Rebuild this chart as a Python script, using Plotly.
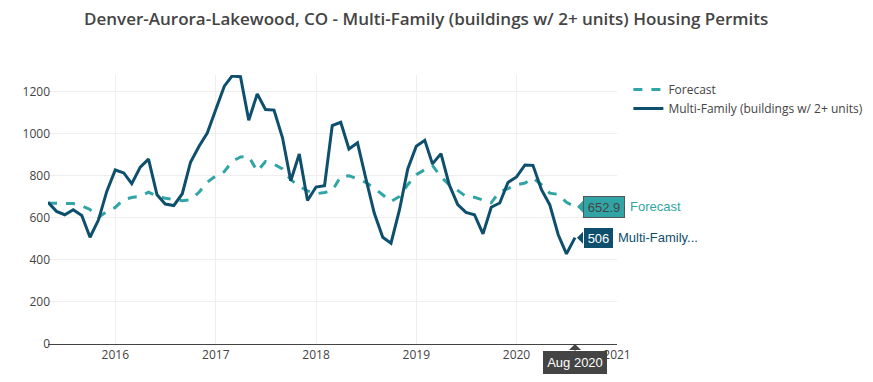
import pandas as pd
import plotly.graph_objects as go

# ---- data ----
start_month = "2015-05-01"
n_months = 64
dates = pd.date_range(start_month, periods=n_months, freq="MS")

multi_family = [
    674, 631, 615, 639, 612, 508, 591, 726,                      # 2015 May-Dec
    828, 814, 763, 842, 880, 710, 666, 659, 715, 865, 941, 1004,  # 2016
    1116, 1227, 1275, 1272, 1065, 1190, 1116, 1113, 981, 777, 904, 683,  # 2017
    747, 753, 1039, 1055, 928, 957, 790, 623, 508, 480, 639, 833,  # 2018
    941, 969, 857, 906, 758, 663, 626, 615, 524, 651, 671, 769,    # 2019
    795, 852, 850, 734, 663, 520, 429, 506,                        # 2020 Jan-Aug
]
forecast = [
    670, 670, 670, 668, 658, 640, 603, 630,
    650, 688, 697, 703, 722, 705, 693, 686, 682, 686, 722, 770,
    800, 820, 868, 890, 893, 822, 868, 855, 833, 782, 750, 729,
    715, 721, 729, 797, 801, 785, 769, 742, 710, 678, 702, 758,
    806, 830, 850, 795, 758, 731, 702, 698, 684, 672, 726, 739,
    758, 766, 790, 758, 718, 712, 674, 652.9,
]
series_names = ["Forecast", "Multi-Family (buildings w/ 2+ units)"]
hover_names = ["Forecast", "Multi-Family..."]
hover_month_label = "Aug 2020"
y_ticks = [0, 200, 400, 600, 800, 1000, 1200]
x_range = ["2015-05-01", "2021-01-01"]
y_range = [0, 1280]
title_text = "Denver-Aurora-Lakewood, CO - Multi-Family (buildings w/ 2+ units) Housing Permits"

# ---- style ----
C_MULTI = "#0e4f6d"
C_FC = "#31a5a5"
HOVER_FONT = "Arial, Liberation Sans, sans-serif"

fig = go.Figure()
fig.add_trace(go.Scatter(
    x=dates, y=forecast, name=series_names[0], mode="lines",
    line=dict(color=C_FC, width=3, dash="dash"),
))
fig.add_trace(go.Scatter(
    x=dates, y=multi_family, name=series_names[1], mode="lines",
    line=dict(color=C_MULTI, width=3),
))

last_x = dates[-1]

# hover-like end labels
def value_label(y, text, bg, fg, border, width, name, name_color, name_shift):
    fig.add_annotation(
        x=last_x, y=y, xref="x", yref="y", text=text,
        showarrow=True, arrowhead=1, arrowsize=2, arrowwidth=1,
        arrowcolor=bg, ax=8, ay=0, standoff=2, xanchor="left",
        bgcolor=bg, bordercolor=border, borderwidth=1, borderpad=0,
        width=width, height=20, align="center", valign="middle",
        font=dict(family=HOVER_FONT, size=13, color=fg),
    )
    fig.add_annotation(
        x=last_x, y=y, xref="x", yref="y", text=name, showarrow=False,
        xanchor="left", xshift=name_shift,
        font=dict(family=HOVER_FONT, size=13, color=name_color),
    )

value_label(forecast[-1], f"{forecast[-1]:g}", C_FC, "#444", "#555", 40,
            hover_names[0], C_FC, 53)
value_label(multi_family[-1], f"{multi_family[-1]:g}", C_MULTI, "#fff", "#fff", 29,
            hover_names[1], C_MULTI, 41)

# x hover label
fig.add_annotation(
    x=last_x, y=0, xref="x", yref="paper", text=hover_month_label,
    showarrow=True, arrowhead=1, arrowsize=2, arrowwidth=1, arrowcolor="#444",
    ax=0, ay=7, standoff=0, yanchor="top",
    bgcolor="#444", bordercolor="#444", borderwidth=1, borderpad=0,
    width=62, height=21, align="center", valign="middle",
    font=dict(family=HOVER_FONT, size=13, color="#fff"),
)

fig.update_layout(
    width=873, height=382,
    margin=dict(l=40, r=264, t=67, b=46),
    paper_bgcolor="white", plot_bgcolor="white",
    font=dict(family="Open Sans, sans-serif", size=12, color="#444"),
    title=dict(text=title_text, x=0.479, xanchor="center", y=0.971, yanchor="middle",
               font=dict(family="Open Sans, sans-serif", size=17, color="#444", weight=600)),
    legend=dict(font=dict(size=12, color="#444")),
    showlegend=True,
)
fig.update_xaxes(
    range=x_range, type="date", dtick="M12", tick0="2016-01-01", tickformat="%Y",
    showgrid=True, gridcolor="#eee", showline=True, linecolor="#444", linewidth=1,
    zeroline=False, ticks="",
)
fig.update_yaxes(
    range=y_range, tickvals=y_ticks, showgrid=True, gridcolor="#eee",
    zeroline=False, showline=False, ticks="", ticklabelstandoff=-3,
)

fig.write_html("out.html")
